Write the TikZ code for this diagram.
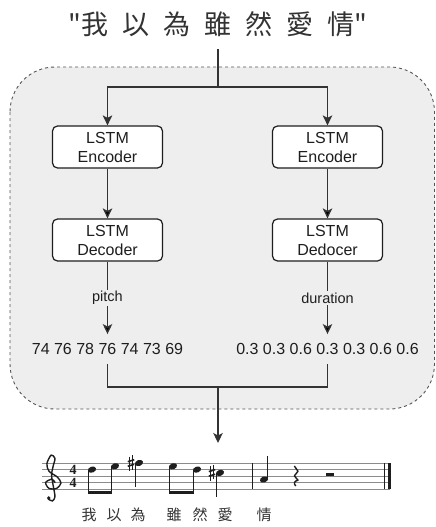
\documentclass[tikz,border=0pt]{standalone}
\usepackage{fontspec}
\setmainfont{Liberation Sans}
\newfontfamily\cjkfont{Noto Sans CJK TC}
\newfontfamily\sigfont{Liberation Serif}
\usepackage{xcolor}
\definecolor{panel-gray}{HTML}{EEEEEE}
\definecolor{dash-gray}{HTML}{555555}
\definecolor{ink}{HTML}{1E1E1E}
\definecolor{line-gray}{HTML}{333333}
\definecolor{staff-gray}{HTML}{8C8C8C}
\usetikzlibrary{arrows.meta,positioning}
\newcommand{\cjkgap}{\hspace{14pt}}
\tikzset{
    semithick,
    panel/.style={draw=dash-gray, fill=panel-gray, dashed, dash pattern=on 3pt off 3pt, line width=0.9pt, rounded corners=45pt},
    headline/.style={font=\cjkfont\fontsize{27}{30}\selectfont, text=line-gray, text depth=0pt, inner xsep=0pt, inner ysep=14pt},
    block/.style={rectangle, rounded corners=5pt, draw=ink, line width=1.2pt, fill=white, minimum width=110pt, minimum height=42pt, align=center, font=\fontsize{16}{19}\selectfont, text=ink},
    nums/.style={font=\fontsize{16}{19}\selectfont, text=ink, text height=11.5pt, text depth=0pt, inner ysep=9pt},
    lbl/.style={fill=panel-gray, font=\fontsize{14.5}{17}\selectfont, text=ink, inner sep=1.5pt},
    wire/.style={draw=line-gray, line width=1.3pt},
    flow/.style={wire, -{Stealth[length=10pt,width=9.5pt,inset=2.5pt]}},
    staffline/.style={draw=staff-gray, line width=0.9pt},
    barline/.style={draw=ink, line width=0.9pt},
    stem/.style={draw=ink, line width=0.9pt},
    lyric/.style={font=\cjkfont\fontsize{15}{17}\selectfont, text=line-gray, inner sep=0pt},
    timesig/.style={font=\sigfont\bfseries\fontsize{14}{14}\selectfont, text=ink, inner sep=0pt, text height=9.2pt, text depth=0pt}
}

\begin{document}
\begin{tikzpicture}[x=1pt, y=-1pt]
    \useasboundingbox (0,0) rectangle (436,527);
    \draw[panel] (10,67) rectangle (434.5,409);

    \node[headline, anchor=base] (title) at (218,35) {"我\cjkgap 以\cjkgap 為\cjkgap 雖\cjkgap 然\cjkgap 愛\cjkgap 情"};

    \node[block] (enc-l) at (107.5,147) {LSTM\\Encoder};
    \node[block] (enc-r) at (327.5,147) {LSTM\\Encoder};
    \node[block] (dec-l) at (107.5,240) {LSTM\\Decoder};
    \node[block] (dec-r) at (327.5,240) {LSTM\\Dedocer};

    \node[nums] (pitches) at (107.5,349) {74 76 78 76 74 73 69};
    \node[nums] (durations) at (327.5,349) {0.3 0.3 0.6 0.3 0.3 0.6 0.6};

    \coordinate (split) at (218,87);
    \coordinate (merge) at (218,387);
    \coordinate (score) at (218,443);

    \draw[wire] (title) -- (split);
    \draw[flow] (split) -| (enc-l);
    \draw[flow] (split) -| (enc-r);
    \path[flow] (enc-l) edge (dec-l);
    \path[flow] (enc-r) edge (dec-r);
    \path[flow] (dec-l) edge node[lbl] {pitch} (pitches);
    \path[flow] (dec-r) edge node[lbl] {duration} (durations);
    \draw[wire] (pitches) |- (merge);
    \draw[wire] (durations) |- (merge);
    \draw[flow] (merge) -- (score);

    % score
    \foreach \i in {0,...,4}
      \draw[staffline] (42,{463+6.6*\i}) -- (390,{463+6.6*\i});
    \draw[barline] (252,463) -- (252,489.4);
    \draw[barline] (384.5,463) -- (384.5,489.4);
    \fill[ink] (387.5,463) rectangle (390.5,489.4);

    % clef
    \begin{scope}[shift={(52,482.8)}, x=8.5pt, y=6.6pt]
      \draw[ink, line width=1.4pt, line cap=round] plot[smooth] coordinates {
        (0.35,0.05) (0.0,0.55) (-0.75,0.05) (-0.35,-0.85) (0.55,-0.85)
        (1.05,-0.05) (0.65,0.85) (-0.35,1.75) (-0.6,2.9) (-0.1,4.2)
        (0.35,3.7) (0.15,2.6) (-0.05,1.2) (0.15,-0.5) (0.35,-2.1)
        (0.05,-2.75) (-0.45,-2.45)};
      \fill[ink] (-0.38,-2.3) circle (1.8pt);
    \end{scope}

    \node[timesig] (sig-top) at (73,469.6) {4};
    \node[timesig] (sig-bottom) at (73,482.8) {4};

    % notes
    \foreach \nx/\ny in {92/469.6, 115/466.3, 139/463, 173/466.3, 197/469.6, 220/472.9, 264/479.5}
      \fill[ink, rotate around={20:(\nx,\ny)}] (\nx,\ny) ellipse (4.2pt and 3pt);
    \foreach \nx/\ny/\ey in {92/469.6/494, 115/466.3/494, 139/463/487, 173/466.3/494, 197/469.6/494, 220/472.9/497}
      \draw[stem] ({\nx-3.8},\ny) -- ({\nx-3.8},\ey);
    \draw[stem] (267.8,479.5) -- (267.8,456);
    \fill[ink] (87.75,490.5) rectangle (111.65,494);
    \fill[ink] (168.75,490.5) rectangle (193.65,494);

    % sharps
    \foreach \sx/\sy in {131/463, 212/472.9} {
      \draw[ink, line width=0.6pt] ({\sx-1.4},{\sy-6.5}) -- ({\sx-1.4},{\sy+8});
      \draw[ink, line width=0.6pt] ({\sx+1.4},{\sy-8}) -- ({\sx+1.4},{\sy+6.5});
      \draw[ink, line width=1.6pt] ({\sx-3.2},{\sy-1.3}) -- ({\sx+3.2},{\sy-3.3});
      \draw[ink, line width=1.6pt] ({\sx-3.2},{\sy+3.3}) -- ({\sx+3.2},{\sy+1.3});
    }

    % rests
    \begin{scope}[shift={(296,476.2)}, x=6.6pt, y=6.6pt]
      \draw[ink, line width=1.4pt, line join=round] (-0.25,1.55) -- (0.3,0.75) -- (-0.25,0.05) -- (0.3,-0.6)
        .. controls (-0.2,-0.75) and (-0.45,-0.95) .. (-0.05,-1.5);
    \end{scope}
    \fill[ink] (326,472.9) rectangle (334,476.2);

    % lyrics
    \foreach \lx/\ch [count=\k] in {89/我, 114/以, 138/為, 174/雖, 200/然, 225/愛, 264/情}
      \node[lyric] (lyric\k) at (\lx,515) {\ch};
\end{tikzpicture}
\end{document}
